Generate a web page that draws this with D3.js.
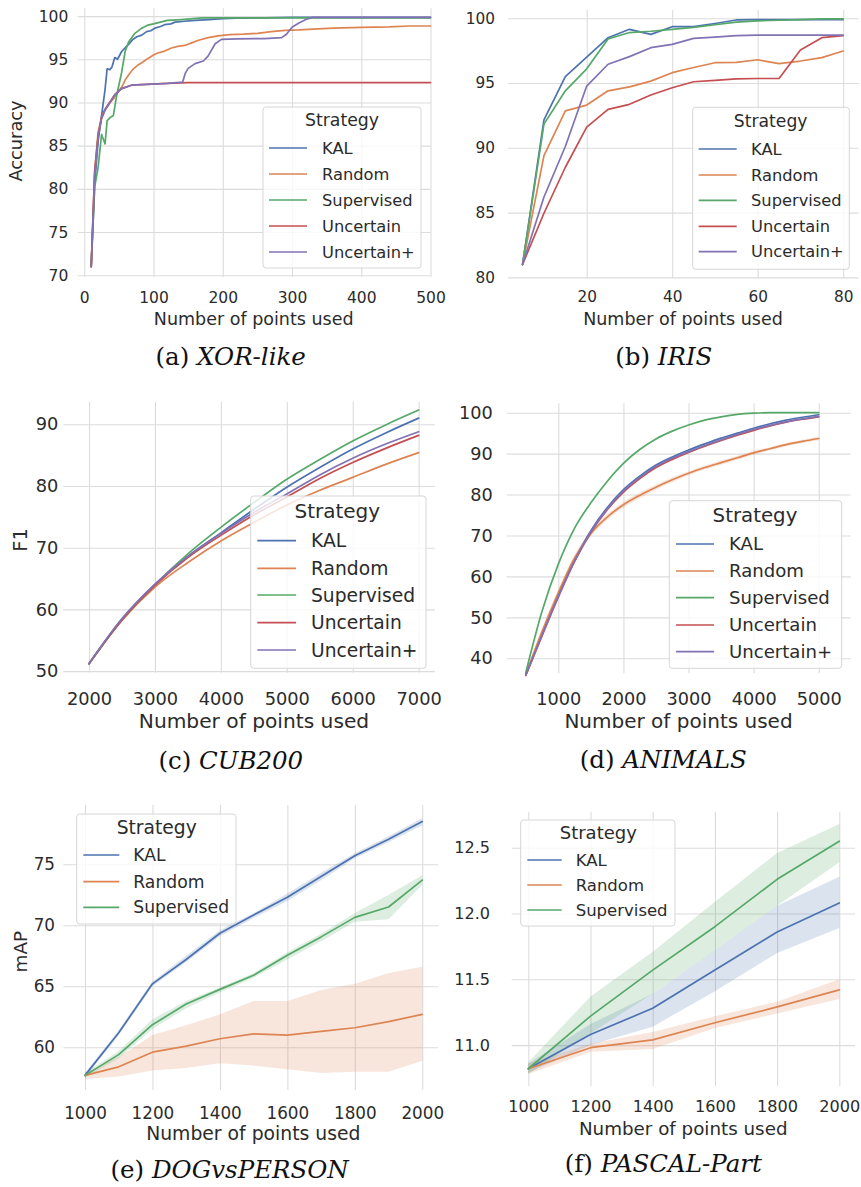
<!DOCTYPE html>
<html>
<head>
<meta charset="utf-8">
<script src="https://cdn.jsdelivr.net/npm/d3@7"></script>
<style>
  html, body { margin: 0; padding: 0; background: #ffffff; }
  svg { display: block; }
</style>
</head>
<body>
<svg id="fig" width="861" height="1187"></svg>
<script>
// ---------- shared ----------
const strategies = ["KAL", "Random", "Supervised", "Uncertain", "Uncertain+"];
const palette = ["#4c72b0", "#dd8452", "#55a868", "#c44e52", "#8172b3"];

// ---------- (a) XOR-like : [points used, accuracy] ----------
const xorKAL = [[10,71],[15,80.5],[20,85.5],[25,88.5],[30,91.5],[33,93.9],[37,93.8],[40,94.1],[44,95.2],[48,95.0],[54,95.9],[60,96.4],[65,96.8],[70,97.3],[76,97.6],[83,97.8],[90,98.2],[96,98.3],[102,98.6],[110,98.8],[116,99.0],[125,99.1],[131,99.3],[145,99.4],[160,99.5],[180,99.6],[200,99.7],[220,99.75],[260,99.8],[300,99.85],[500,99.85]];
const xorRandom = [[10,71],[15,82],[20,86.6],[25,88.3],[30,89.2],[35,89.8],[42,90.4],[49,91.2],[55,91.9],[59,92.6],[65,93.3],[71,93.9],[77,94.3],[83,94.6],[92,95.1],[100,95.5],[105,95.7],[116,95.95],[126,96.3],[135,96.5],[145,96.6],[155,96.9],[165,97.2],[179,97.5],[193,97.7],[210,97.85],[230,97.9],[250,98.0],[270,98.2],[290,98.35],[310,98.4],[330,98.5],[360,98.6],[400,98.7],[440,98.75],[470,98.85],[500,98.85]];
const xorSupervised = [[10,71],[15,80.2],[20,82.5],[25,86.3],[30,85.2],[33,87.9],[38,88.3],[42,88.5],[47,90.9],[54,93.5],[59,95.9],[64,97.0],[73,98.0],[83,98.6],[92,98.96],[100,99.1],[110,99.3],[120,99.5],[140,99.6],[170,99.8],[500,99.8]];
const xorUncertain = [[10,71],[15,82],[20,86.2],[25,88.3],[30,89.2],[35,89.8],[44,90.9],[54,91.6],[68,92.0],[90,92.1],[120,92.2],[150,92.3],[500,92.3]];
const xorUncertainPlus = [[10,71],[15,81.5],[20,86.0],[25,88.1],[30,89.1],[35,89.7],[44,90.9],[54,91.6],[68,92.0],[90,92.1],[120,92.2],[142,92.35],[146,93.4],[150,93.95],[160,94.5],[172,94.8],[179,95.4],[189,96.8],[198,97.3],[220,97.35],[260,97.4],[285,97.5],[292,97.9],[300,98.7],[310,99.2],[320,99.6],[330,99.85],[500,99.85]];

// ---------- (b) IRIS ----------
const irisX = [5,10,15,20,25,30,35,40,45,50,55,60,65,70,75,80];
const irisKAL = [81,92.15,95.5,97.0,98.5,99.15,98.76,99.35,99.35,99.6,99.87,99.9,99.9,99.9,99.9,99.9];
const irisRandom = [81,89.4,92.85,93.3,94.4,94.7,95.15,95.8,96.2,96.57,96.6,96.8,96.5,96.7,96.96,97.47];
const irisSupervised = [81,91.83,94.4,96.1,98.4,98.9,99.0,99.15,99.3,99.5,99.7,99.8,99.85,99.9,99.95,99.95];
const irisUncertain = [81,84.95,88.5,91.6,92.97,93.36,94.08,94.64,95.1,95.2,95.33,95.35,95.35,97.55,98.5,98.66];
const irisUncertainPlus = [81,86.2,90.1,94.77,96.45,97.04,97.73,97.99,98.45,98.55,98.66,98.7,98.7,98.7,98.7,98.7];

// ---------- (c) CUB200 ----------
const cubX = [2000,2500,3000,3500,4000,4500,5000,5500,6000,6500,7000];
const cubKAL = [51.2,58.4,64.0,68.6,72.4,76.2,79.8,83.0,86.0,88.6,91.0];
const cubRandom = [51.2,58.2,63.6,67.6,71.1,74.1,76.9,79.3,81.4,83.5,85.4];
const cubSupervised = [51.2,58.3,64.0,69.0,73.3,77.3,81.1,84.3,87.3,89.9,92.3];
const cubUncertain = [51.2,58.3,63.9,68.4,72.0,75.3,78.2,81.2,83.8,86.1,88.2];
const cubUncertainPlus = [51.2,58.5,64.1,68.6,72.3,75.7,78.7,81.8,84.5,86.8,88.8];

// ---------- (d) ANIMALS ----------
const animalsX = [500,750,1000,1250,1500,1750,2000,2250,2500,2750,3000,3250,3500,3750,4000,4250,4500,4750,5000];
const animalsKAL = [36.0,46.0,55.5,64.0,71.2,76.8,81.2,84.5,87.2,89.2,90.9,92.4,93.8,95.0,96.2,97.3,98.2,98.9,99.5];
const animalsRandom = [36.0,46.5,56.0,64.5,70.5,74.5,77.5,79.8,81.8,83.6,85.2,86.6,87.8,89.0,90.2,91.2,92.2,93.0,93.7];
const animalsRandomLo = [35.4,45.6,55.1,63.7,69.8,73.8,76.8,79.1,81.2,83.0,84.7,86.1,87.3,88.5,89.7,90.8,91.8,92.6,93.3];
const animalsRandomHi = [36.6,47.4,56.9,65.3,71.2,75.2,78.2,80.5,82.4,84.2,85.7,87.1,88.3,89.5,90.7,91.6,92.6,93.4,94.1];
const animalsSupervised = [36.5,51.5,63.0,71.8,78.0,83.2,87.6,91.0,93.6,95.5,97.0,98.2,99.0,99.6,99.9,100,100,100,100];
const animalsUncertain = [35.8,45.5,55.0,63.7,70.8,76.3,80.6,83.9,86.6,88.6,90.3,91.8,93.2,94.5,95.7,96.8,97.7,98.4,99.0];
const animalsUncertainLo = [35.3,44.8,54.3,63.1,70.2,75.8,80.2,83.6,86.3,88.4,90.1,91.6,93.0,94.3,95.5,96.6,97.5,98.2,98.8];
const animalsUncertainHi = [36.3,46.2,55.7,64.3,71.4,76.8,81.0,84.2,86.9,88.8,90.5,92.0,93.4,94.7,95.9,97.0,97.9,98.6,99.2];
const animalsUncertainPlus = [35.9,45.7,55.2,63.8,70.9,76.5,80.9,84.2,86.9,88.9,90.5,92.0,93.4,94.7,95.9,96.9,97.8,98.5,99.1];

// ---------- (e) DOGvsPERSON ----------
const dogX = [1000,1100,1200,1300,1400,1500,1600,1700,1800,1900,2000];
const dogKAL = [57.7,61.2,65.2,67.2,69.35,70.85,72.3,74.0,75.7,77.05,78.5];
const dogKALLo = [57.5,61.0,65.0,67.0,69.1,70.6,72.0,73.7,75.5,76.8,78.2];
const dogKALHi = [57.9,61.4,65.4,67.5,69.6,71.0,72.6,74.3,75.9,77.3,78.8];
const dogRandom = [57.7,58.4,59.6,60.1,60.7,61.1,61.0,61.3,61.6,62.1,62.7];
const dogRandomLo = [57.4,57.6,58.1,58.3,58.7,58.5,58.2,57.9,58.0,58.0,58.9];
const dogRandomHi = [57.9,59.2,61.0,61.8,62.7,63.8,63.8,64.7,65.2,66.1,66.6];
const dogSupervised = [57.7,59.4,61.85,63.55,64.75,65.9,67.55,69.05,70.65,71.5,73.7];
const dogSupervisedLo = [57.5,59.1,61.5,63.2,64.5,65.7,67.2,68.7,70.3,70.5,73.3];
const dogSupervisedHi = [57.9,59.7,62.3,63.8,64.9,66.1,67.8,69.3,71.0,72.5,74.1];

// ---------- (f) PASCAL-Part ----------
const pascalX = [1000,1200,1400,1600,1800,2000];
const pascalKAL = [10.82,11.08,11.28,11.57,11.86,12.08];
const pascalKALLo = [10.79,11.00,11.14,11.41,11.70,11.89];
const pascalKALHi = [10.86,11.16,11.39,11.72,12.06,12.28];
const pascalRandom = [10.82,10.98,11.04,11.17,11.29,11.42];
const pascalRandomLo = [10.78,10.95,10.97,11.13,11.24,11.35];
const pascalRandomHi = [10.86,11.01,11.10,11.22,11.33,11.50];
const pascalSupervised = [10.82,11.22,11.57,11.90,12.26,12.55];
const pascalSupervisedLo = [10.78,11.09,11.39,11.72,12.06,12.39];
const pascalSupervisedHi = [10.87,11.37,11.71,12.09,12.46,12.68];

// ---------- tick values ----------
const xorXTicks = [0,100,200,300,400,500];
const xorYTicks = [70,75,80,85,90,95,100];
const irisXTicks = [20,40,60,80];
const irisYTicks = [80,85,90,95,100];
const cubXTicks = [2000,3000,4000,5000,6000,7000];
const cubYTicks = [50,60,70,80,90];
const animalsXTicks = [1000,2000,3000,4000,5000];
const animalsYTicks = [40,50,60,70,80,90,100];
const dogXTicks = [1000,1200,1400,1600,1800,2000];
const dogYTicks = [60,65,70,75];
const pascalXTicks = [1000,1200,1400,1600,1800,2000];
const pascalYTicks = [11.0,11.5,12.0,12.5];

// helpers to pair x and y arrays
const pairs = (xs, ys) => xs.map((v, i) => [v, ys[i]]);
const band = (xs, lo, hi) => xs.map((v, i) => ({x: v, lo: lo[i], hi: hi[i]}));

const SANS = "'DejaVu Sans', sans-serif";
const SERIF = "'DejaVu Serif', serif";
const GRID = "#dcdcdc";
const INK = "#2b2b2b";

const panels = [
  {
    rect: {l: 77.7, r: 430.5, t: 8.3, b: 277},
    xlim: [-9.5, 500], ylim: [69.8, 100.9],
    xticks: xorXTicks, yticks: xorYTicks, yfmt: d3.format("d"),
    fsTick: 15.5, yPad: 9.4, xPad: 14.6,
    xlabel: {x: 253.7, y: 320.5, fs: 17.5},
    ylabel: {text: "Accuracy", x: 18, y: 141, fs: 17.8, desc: true},
    caption: {tag: "(a) ", name: "XOR-like", x: 230.7, y: 365.3},
    legend: {x0: 263, x1: 421, y0: 107, y1: 268, tx: 342, ty: 122, rows: [148,174,200,226,252], h0: 269, h1: 307, lx: 322, fsT: 17.3, fsE: 16.3},
    curve: d3.curveLinear,
    series: [
      {i: 0, pts: xorKAL}, {i: 1, pts: xorRandom}, {i: 2, pts: xorSupervised},
      {i: 3, pts: xorUncertain}, {i: 4, pts: xorUncertainPlus}
    ]
  },
  {
    rect: {l: 508, r: 858.5, t: 10, b: 278},
    xlim: [1.59, 83.58], ylim: [79.95, 100.64],
    xticks: irisXTicks, yticks: irisYTicks, yfmt: d3.format("d"),
    fsTick: 15.3, yPad: 13, xPad: 13.6,
    xlabel: {x: 683, y: 320.5, fs: 17.5},
    ylabel: null,
    caption: {tag: "(b) ", name: "IRIS", x: 663.8, y: 365.3},
    legend: {x0: 692.7, x1: 849.3, y0: 107.3, y1: 269.3, tx: 770.7, ty: 122.7, rows: [149,175,200.3,226.3,251.7], h0: 698.7, h1: 736.7, lx: 751, fsT: 17.2, fsE: 16.3},
    curve: d3.curveLinear,
    series: [
      {i: 0, pts: pairs(irisX, irisKAL)}, {i: 1, pts: pairs(irisX, irisRandom)},
      {i: 2, pts: pairs(irisX, irisSupervised)}, {i: 3, pts: pairs(irisX, irisUncertain)},
      {i: 4, pts: pairs(irisX, irisUncertainPlus)}
    ]
  },
  {
    rect: {l: 63.3, r: 435, t: 401.7, b: 672.7},
    xlim: [1610, 7248], ylim: [49.74, 93.66],
    xticks: cubXTicks, yticks: cubYTicks, yfmt: d3.format("d"),
    fsTick: 17.8, yPad: 5, xPad: 19.4,
    xlabel: {x: 254, y: 722.7, fs: 20.2},
    ylabel: {text: "F1", x: 20, y: 540, fs: 19.5, desc: false},
    caption: {tag: "(c) ", name: "CUB200", x: 230.8, y: 768.5},
    legend: {x0: 250.7, x1: 426, y0: 496, y1: 668.3, tx: 337.3, ty: 512.7, rows: [540.7,568.3,595,622.7,650], h0: 257.3, h1: 296, lx: 311, fsT: 20, fsE: 18.7},
    curve: d3.curveMonotoneX,
    series: [
      {i: 0, pts: pairs(cubX, cubKAL)}, {i: 1, pts: pairs(cubX, cubRandom)},
      {i: 2, pts: pairs(cubX, cubSupervised)}, {i: 3, pts: pairs(cubX, cubUncertain)},
      {i: 4, pts: pairs(cubX, cubUncertainPlus)}
    ]
  },
  {
    rect: {l: 506.7, r: 850.7, t: 403.3, b: 673.3},
    xlim: [207, 5491], ylim: [36.33, 102.3],
    xticks: animalsXTicks, yticks: animalsYTicks, yfmt: d3.format("d"),
    fsTick: 17.7, yPad: 14, xPad: 18.8,
    xlabel: {x: 678.5, y: 722.7, fs: 20},
    ylabel: null,
    caption: {tag: "(d) ", name: "ANIMALS", x: 663.3, y: 768},
    legend: {x0: 669.3, x1: 841.7, y0: 500.7, y1: 668.3, tx: 755, ty: 516.7, rows: [544,571,597.7,625,651.7], h0: 676, h1: 714, lx: 729, fsT: 19.8, fsE: 18.1},
    curve: d3.curveMonotoneX,
    series: [
      {i: 0, pts: pairs(animalsX, animalsKAL)},
      {i: 1, pts: pairs(animalsX, animalsRandom), band: band(animalsX, animalsRandomLo, animalsRandomHi)},
      {i: 2, pts: pairs(animalsX, animalsSupervised)},
      {i: 3, pts: pairs(animalsX, animalsUncertain), band: band(animalsX, animalsUncertainLo, animalsUncertainHi)},
      {i: 4, pts: pairs(animalsX, animalsUncertainPlus)}
    ]
  },
  {
    rect: {l: 63.3, r: 438.3, t: 805, b: 1090},
    xlim: [935.7, 2047.5], ylim: [56.5, 79.86],
    xticks: dogXTicks, yticks: dogYTicks, yfmt: d3.format("d"),
    fsTick: 16.8, yPad: 8.3, xPad: 16.9,
    xlabel: {x: 253.3, y: 1135, fs: 18.8},
    ylabel: {text: "mAP", x: 20, y: 951.7, fs: 18.4, desc: false},
    caption: {tag: "(e) ", name: "DOGvsPERSON", x: 229.7, y: 1177.8},
    legend: {x0: 76.7, x1: 236, y0: 814, y1: 924, tx: 156.7, ty: 829.3, rows: [855,881.7,907.3], h0: 83.3, h1: 119.3, lx: 133.3, fsT: 18.7, fsE: 17.2},
    curve: d3.curveLinear,
    series: [
      {i: 0, pts: pairs(dogX, dogKAL), band: band(dogX, dogKALLo, dogKALHi)},
      {i: 1, pts: pairs(dogX, dogRandom), band: band(dogX, dogRandomLo, dogRandomHi)},
      {i: 2, pts: pairs(dogX, dogSupervised), band: band(dogX, dogSupervisedLo, dogSupervisedHi)}
    ]
  },
  {
    rect: {l: 511.7, r: 855, t: 811.7, b: 1086},
    xlim: [946.6, 2050.5], ylim: [10.689, 12.774],
    xticks: pascalXTicks, yticks: pascalYTicks, yfmt: d3.format(".1f"),
    fsTick: 16.1, yPad: 21.7, xPad: 14.4,
    xlabel: {x: 683.2, y: 1130, fs: 18.3},
    ylabel: null,
    caption: {tag: "(f) ", name: "PASCAL-Part", x: 663.3, y: 1171.8},
    legend: {x0: 520.7, x1: 675, y0: 820, y1: 926, tx: 598.3, ty: 834.3, rows: [860,885,910], h0: 527.3, h1: 561.7, lx: 575.7, fsT: 18, fsE: 16.5},
    curve: d3.curveLinear,
    series: [
      {i: 0, pts: pairs(pascalX, pascalKAL), band: band(pascalX, pascalKALLo, pascalKALHi)},
      {i: 1, pts: pairs(pascalX, pascalRandom), band: band(pascalX, pascalRandomLo, pascalRandomHi)},
      {i: 2, pts: pairs(pascalX, pascalSupervised), band: band(pascalX, pascalSupervisedLo, pascalSupervisedHi)}
    ]
  }
];

const svg = d3.select("#fig");

function styleAxis(sel, fs) {
  sel.select(".domain").remove();
  sel.selectAll(".tick line").attr("stroke", GRID).attr("stroke-width", 1.1);
  sel.selectAll(".tick text")
    .attr("fill", INK)
    .style("font-family", SANS)
    .style("font-size", fs + "px");
}

function drawPanel(p) {
  const g = svg.append("g");
  const R = p.rect;
  const x = d3.scaleLinear().domain(p.xlim).range([R.l, R.r]);
  const y = d3.scaleLinear().domain(p.ylim).range([R.b, R.t]);

  // grid lines with tick labels
  g.append("g")
    .attr("transform", `translate(${R.l},0)`)
    .call(d3.axisLeft(y).tickValues(p.yticks).tickFormat(p.yfmt)
      .tickSizeInner(-(R.r - R.l)).tickSizeOuter(0).tickPadding(p.yPad))
    .call(styleAxis, p.fsTick);
  g.append("g")
    .attr("transform", `translate(0,${R.b})`)
    .call(d3.axisBottom(x).tickValues(p.xticks).tickFormat(d3.format("d"))
      .tickSizeInner(-(R.b - R.t)).tickSizeOuter(0).tickPadding(p.xPad))
    .call(styleAxis, p.fsTick);

  // confidence bands
  const area = d3.area().x(d => x(d.x)).y0(d => y(d.lo)).y1(d => y(d.hi)).curve(p.curve);
  p.series.filter(s => s.band).forEach(s => {
    g.append("path").attr("d", area(s.band))
      .attr("fill", palette[s.i]).attr("fill-opacity", 0.2).attr("stroke", "none");
  });

  // mean lines
  const line = d3.line().x(d => x(d[0])).y(d => y(d[1])).curve(p.curve);
  p.series.forEach(s => {
    g.append("path").attr("d", line(s.pts))
      .attr("fill", "none").attr("stroke", palette[s.i])
      .attr("stroke-width", 1.7).attr("stroke-linejoin", "round").attr("stroke-linecap", "round");
  });

  // axis titles
  g.append("text")
    .attr("x", p.xlabel.x).attr("y", p.xlabel.y + 0.25 * p.xlabel.fs)
    .attr("text-anchor", "middle").attr("fill", INK)
    .style("font-family", SANS).style("font-size", p.xlabel.fs + "px")
    .text("Number of points used");
  if (p.ylabel) {
    const L = p.ylabel;
    const bx = L.x + (L.desc ? 0.25 : 0.36) * L.fs;
    g.append("text")
      .attr("transform", `translate(${bx},${L.y}) rotate(-90)`)
      .attr("text-anchor", "middle").attr("fill", INK)
      .style("font-family", SANS).style("font-size", L.fs + "px")
      .text(L.text);
  }

  // legend
  const lg = p.legend;
  const leg = g.append("g");
  leg.append("rect")
    .attr("x", lg.x0).attr("y", lg.y0)
    .attr("width", lg.x1 - lg.x0).attr("height", lg.y1 - lg.y0)
    .attr("rx", 3).attr("ry", 3)
    .attr("fill", "#ffffff").attr("fill-opacity", 0.8)
    .attr("stroke", "#d6d6d6").attr("stroke-width", 1);
  leg.append("text")
    .attr("x", lg.tx).attr("y", lg.ty + 0.25 * lg.fsT)
    .attr("text-anchor", "middle").attr("fill", INK)
    .style("font-family", SANS).style("font-size", lg.fsT + "px")
    .text("Strategy");
  p.series.forEach((s, k) => {
    const ry = lg.rows[k];
    leg.append("line")
      .attr("x1", lg.h0).attr("x2", lg.h1).attr("y1", ry).attr("y2", ry)
      .attr("stroke", palette[s.i]).attr("stroke-width", 1.7);
    leg.append("text")
      .attr("x", lg.lx).attr("y", ry + 0.35 * lg.fsE)
      .attr("fill", INK)
      .style("font-family", SANS).style("font-size", lg.fsE + "px")
      .text(strategies[s.i]);
  });

  // sub-figure caption
  const cap = g.append("text")
    .attr("x", p.caption.x).attr("y", p.caption.y)
    .attr("text-anchor", "middle").attr("fill", "#111111")
    .style("font-family", SERIF).style("font-size", "24.5px");
  cap.append("tspan").text(p.caption.tag);
  cap.append("tspan").style("font-style", "italic").text(p.caption.name);
}

panels.forEach(drawPanel);
</script>
</body>
</html>
